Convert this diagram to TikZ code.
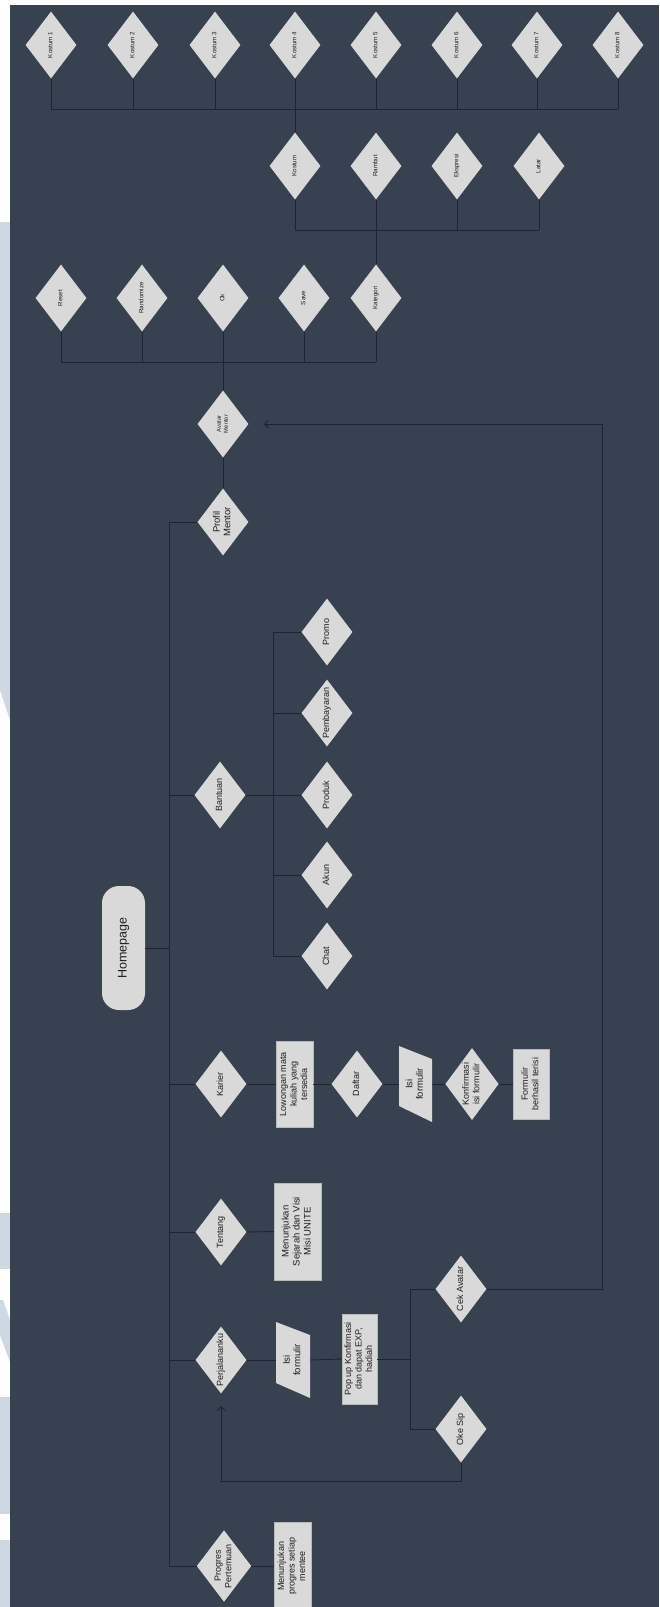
\documentclass[tikz,border=0pt]{standalone}
\usepackage{fontspec}
\setmainfont{Liberation Sans}
\usetikzlibrary{shapes.geometric,arrows.meta}
\definecolor{bgdark}{HTML}{384150}
\definecolor{shapefill}{HTML}{D9D9D9}
\definecolor{linecol}{HTML}{1E2430}
\definecolor{txtcol}{HTML}{1E1E1E}
\definecolor{wmark}{HTML}{CDD8E3}
\newcommand{\rtx}[1]{\rotatebox{90}{\begin{tabular}{@{}c@{}}#1\end{tabular}}}
\begin{document}
\begin{tikzpicture}[x=1pt,y=-1pt,
  dia/.style={diamond, aspect=0.76, fill=shapefill, draw=none, inner sep=0pt,
    minimum width=51pt, minimum height=67pt, text=txtcol, font=\fontsize{9}{10.5}\selectfont},
  smalldia/.style={dia, font=\fontsize{6.2}{7}\selectfont},
  tinydia/.style={dia, font=\fontsize{5.8}{7}\selectfont},
  boxnode/.style={rectangle, fill=shapefill, draw=gray!55, line width=0.4pt, inner sep=0pt,
    text=txtcol, font=\fontsize{9}{10.5}\selectfont},
  ghost/.style={rectangle, draw=none, inner sep=0pt, text=txtcol, font=\fontsize{9.5}{10.5}\selectfont},
  homebox/.style={rectangle, rounded corners=17pt, fill=shapefill, draw=none, inner sep=0pt,
    minimum width=43pt, minimum height=124pt, text=txtcol, font=\fontsize{12.5}{14}\selectfont},
  conn/.style={draw=linecol, line width=0.9pt},
  arr/.style={conn, -{Straight Barb[length=4pt,width=8pt]}}
]
\useasboundingbox (0,0) rectangle (659,1607);
\clip (0,0) rectangle (659,1607);
\fill[white] (0,0) rectangle (659,1607);
% watermark fragments in the margin
\fill[wmark] (0,222) -- (10,222) -- (10,720) -- (0,690) -- cycle;
\fill[wmark] (0,1213) rectangle (10,1269);
\fill[wmark] (0,1300) -- (3,1300) -- (10,1320) -- (10,1362) -- (0,1335) -- cycle;
\fill[wmark] (0,1397) rectangle (10,1514);
\fill[wmark] (0,1540) rectangle (10,1607);
% dark canvas
\fill[bgdark] (10,5) rectangle (659,1607);

% row 1: Kostum 1..8
\node[smalldia] (k1) at (51,45) {\rtx{Kostum 1}};
\node[smalldia] (k2) at (133,45) {\rtx{Kostum 2}};
\node[smalldia] (k3) at (215,45) {\rtx{Kostum 3}};
\node[smalldia] (k4) at (295,45) {\rtx{Kostum 4}};
\node[smalldia] (k5) at (376,45) {\rtx{Kostum 5}};
\node[smalldia] (k6) at (457,45) {\rtx{Kostum 6}};
\node[smalldia] (k7) at (537,45) {\rtx{Kostum 7}};
\node[smalldia] (k8) at (618,45) {\rtx{Kostum 8}};
% row 2
\node[smalldia] (c1) at (295,166) {\rtx{Kostum}};
\node[smalldia] (c2) at (376,166) {\rtx{Rambut}};
\node[smalldia] (c3) at (457,166) {\rtx{Ekspresi}};
\node[smalldia] (c4) at (539,166) {\rtx{Latar}};
% row 3
\node[smalldia] (reset) at (61,298) {\rtx{Reset}};
\node[smalldia] (rand) at (142,298) {\rtx{Randomize}};
\node[smalldia] (ok) at (223,298) {\rtx{Ok}};
\node[smalldia] (save) at (304,298) {\rtx{Save}};
\node[smalldia] (kat) at (376,298) {\rtx{Kategori}};
% avatar / profil
\node[tinydia] (avatar) at (223,424) {\rtx{Avatar\\Mentor}};
\node[dia, font=\fontsize{9.5}{10.5}\selectfont] (profil) at (223,522) {\rtx{Profil\\Mentor}};
% bantuan branch
\node[dia] (bantuan) at (220,795) {\rtx{Bantuan}};
\node[dia] (promo) at (327,632) {\rtx{Promo}};
\node[dia] (bayar) at (327,713) {\rtx{Pembayaran}};
\node[dia] (produk) at (327,795) {\rtx{Produk}};
\node[dia] (akun) at (327,875) {\rtx{Akun}};
\node[dia] (chat) at (327,956) {\rtx{Chat}};
% homepage
\node[homebox] (home) at (123.5,948) {\rotatebox{90}{Homepage}};
% karier row
\node[dia] (karier) at (221,1084) {\rtx{Karier}};
\node[boxnode, minimum width=37pt, minimum height=86pt] (lowongan) at (294.5,1084) {\rtx{Lowongan mata\\kuliah yang\\tersedia}};
\node[dia] (daftar) at (357,1084) {\rtx{Daftar}};
\fill[shapefill] (399,1046) -- (432,1059) -- (432,1122) -- (399,1106) -- cycle;
\node[ghost, minimum width=33pt, minimum height=60pt] (isi1) at (415.5,1084) {\rtx{Isi\\formulir}};
\node[dia, minimum height=72pt] (konf) at (472,1084) {\rtx{Konfirmasi\\isi formulir}};
\node[boxnode, minimum width=36pt, minimum height=70pt] (formulir) at (531,1084) {\rtx{Formulir\\berhasil terisi}};
% tentang row
\node[dia] (tentang) at (221,1232) {\rtx{Tentang}};
\node[boxnode, minimum width=47pt, minimum height=97pt, font=\fontsize{9.5}{11}\selectfont] (sejarah) at (297.5,1231.5) {\rtx{Menunjukan\\Sejarah dan Visi\\Misi UNITE}};
% perjalananku row
\node[dia] (cek) at (461,1289) {\rtx{Cek Avatar}};
\node[dia] (perj) at (221,1360) {\rtx{Perjalananku}};
\fill[shapefill] (276,1322) -- (310,1335) -- (310,1398) -- (276,1383) -- cycle;
\node[ghost, minimum width=34pt, minimum height=60pt] (isi2) at (293,1360) {\rtx{Isi\\formulir}};
\node[boxnode, minimum width=35pt, minimum height=90pt] (popup) at (359.5,1359) {\rtx{Pop up Konfirmasi\\dan dapat EXP,\\hadiah}};
\node[dia] (oke) at (461,1429) {\rtx{Oke Sip}};
% progres row
\node[dia, minimum width=53pt, minimum height=70pt] (progres) at (224,1566) {\rtx{Progres\\Pertemuan}};
\node[boxnode, minimum width=37pt, minimum height=88pt] (mprog) at (292.5,1566) {\rtx{Menunjukan\\progres setiap\\mentee}};

% helper coordinates
\coordinate (bus1) at (0,109);
\coordinate (bus2) at (0,230);
\coordinate (bus3) at (0,362);
\coordinate (spine) at (169,0);
\coordinate (bsub) at (273,0);
\coordinate (split) at (410,0);
\coordinate (fbR) at (602,424);
\coordinate (avArrow) at (264,424);
\coordinate (fbB) at (221,1481);
\coordinate (perjArrow) at (221,1406);

% row 1 bus
\foreach \n in {k1,k2,k3,k4,k5,k6,k7,k8}
  \draw[conn] (\n.south) -- (\n.south |- bus1);
\draw[conn] (k1.south |- bus1) -- (k8.south |- bus1);
\draw[conn] (k4.south |- bus1) -- (c1.north);
% row 2 bus
\foreach \n in {c1,c2,c3,c4}
  \draw[conn] (\n.south) -- (\n.south |- bus2);
\draw[conn] (c1.south |- bus2) -- (c4.south |- bus2);
\draw[conn] (c2.south |- bus2) -- (kat.north);
% row 3 bus
\foreach \n in {reset,rand,ok,save,kat}
  \draw[conn] (\n.south) -- (\n.south |- bus3);
\draw[conn] (reset.south |- bus3) -- (kat.south |- bus3);
\draw[conn] (ok.south |- bus3) -- (avatar.north);
\draw[conn] (avatar.south) -- (profil.north);

% main spine
\draw[conn] (profil.west) -- (profil.west -| spine) -- (progres.west -| spine) -- (progres.west);
\draw[conn] (bantuan.west -| spine) -- (bantuan.west);
\draw[conn] (home.east) -- (home.east -| spine);
\draw[conn] (karier.west -| spine) -- (karier.west);
\draw[conn] (tentang.west -| spine) -- (tentang.west);
\draw[conn] (perj.west -| spine) -- (perj.west);

% bantuan sub-branch
\draw[conn] (bantuan.east) -- (produk.west);
\draw[conn] (promo.west -| bsub) -- (chat.west -| bsub);
\foreach \n in {promo,bayar,akun,chat}
  \draw[conn] (\n.west -| bsub) -- (\n.west);

% karier chain
\draw[conn] (karier.east) -- (lowongan.west);
\draw[conn] (lowongan.east) -- (daftar.west);
\draw[conn] (daftar.east) -- (isi1.west);
\draw[conn] (isi1.east) -- (konf.west);
\draw[conn] (konf.east) -- (formulir.west);

% tentang
\draw[conn] (tentang.east) -- (sejarah.west);

% perjalananku chain
\draw[conn] (perj.east) -- (isi2.west);
\draw[conn] (isi2.east) -- (popup.west);
\draw[conn] (popup.east) -- (popup.east -| split);
\draw[conn] (cek.west -| split) -- (oke.west -| split);
\draw[conn] (cek.west -| split) -- (cek.west);
\draw[conn] (oke.west -| split) -- (oke.west);
\draw[arr] (cek.east) -| (fbR) -- (avArrow);
\draw[arr] (oke.south) |- (fbB) -- (perjArrow);

% progres
\draw[conn] (progres.east) -- (mprog.west);
\end{tikzpicture}
\end{document}
